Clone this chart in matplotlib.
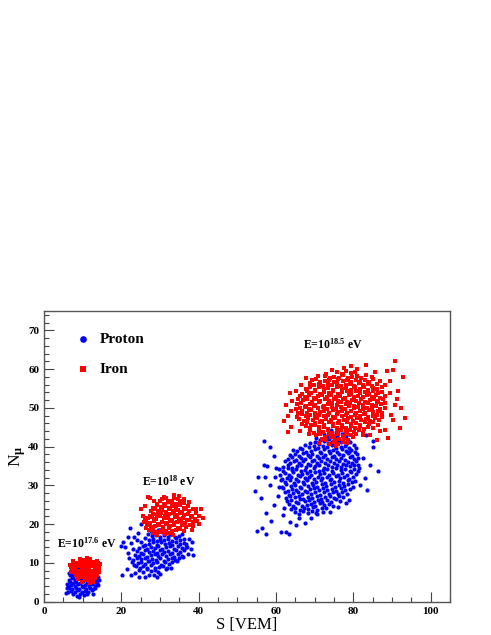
import matplotlib
matplotlib.use("Agg")
import matplotlib.pyplot as plt
from matplotlib.ticker import MultipleLocator

plt.rcParams["font.family"] = ["Liberation Serif", "DejaVu Serif"]
plt.rcParams["font.weight"] = "bold"
plt.rcParams["mathtext.fontset"] = "custom"
plt.rcParams["mathtext.rm"] = "Liberation Serif:bold"
plt.rcParams["mathtext.bf"] = "Liberation Serif:bold"
plt.rcParams["mathtext.it"] = "Liberation Serif:bold"

# (S [VEM], N_mu) pairs, one list per cluster
proton_17_6 = [
    (7.6, 1.9), (8.5, 1.6), (9.4, 2.0), (10.3, 1.7), (11.2, 2.1),
    (6.1, 2.4), (7.0, 2.8), (7.9, 2.5), (8.8, 2.9), (9.7, 2.4), (10.6, 2.7), (11.5, 2.5), (12.3, 2.9),
    (6.5, 3.6), (7.3, 3.2), (8.2, 3.5), (9.1, 3.3), (10.0, 3.7), (10.9, 3.2), (11.8, 3.5), (12.6, 3.3), (13.3, 3.6),
    (6.3, 4.0), (7.1, 4.4), (8.0, 4.1), (8.9, 4.5), (9.8, 4.0), (10.7, 4.3), (11.6, 4.1), (12.4, 4.5), (13.2, 4.0), (13.9, 4.3),
    (6.6, 5.2), (7.5, 4.8), (8.4, 5.1), (9.3, 4.9), (10.2, 5.3), (11.1, 4.8), (12.0, 5.0), (12.9, 5.2), (13.6, 4.9),
    (6.4, 5.6), (7.2, 6.0), (8.1, 5.7), (9.0, 6.1), (9.9, 5.6), (10.8, 5.9), (11.7, 5.7), (12.6, 6.0), (13.4, 5.6),
    (6.7, 6.8), (7.6, 6.4), (8.5, 6.7), (9.4, 6.5), (10.3, 6.9), (11.2, 6.4), (12.1, 6.7), (13.0, 6.5),
    (6.5, 7.5), (7.4, 7.2), (8.3, 7.6), (9.2, 7.3), (10.1, 7.5), (11.0, 7.2), (12.0, 7.6),
    (6.9, 8.3), (7.8, 8.0), (8.8, 8.4), (9.7, 8.1),
    (5.8, 2.2), (6.0, 3.5), (5.9, 4.6), (14.2, 5.5), (14.0, 6.5), (9.0, 1.3), (12.8, 2.0),
]

iron_17_6 = [
    (9.2, 11.1), (10.1, 10.8), (11.0, 11.2), (12.0, 10.9), (13.8, 10.6),
    (7.6, 10.4), (8.5, 10.1), (9.4, 10.5), (10.3, 10.2), (11.2, 10.4), (12.1, 10.0), (13.0, 10.3), (14.0, 10.1),
    (6.6, 9.5), (7.4, 9.8), (8.3, 9.4), (9.2, 9.7), (10.1, 9.5), (11.0, 9.8), (11.9, 9.4), (12.8, 9.7), (13.7, 9.5), (14.4, 9.8),
    (7.0, 9.0), (7.9, 8.7), (8.8, 9.1), (9.7, 8.8), (10.6, 9.0), (11.5, 8.7), (12.4, 9.1), (13.3, 8.8), (14.2, 9.0),
    (7.2, 8.1), (8.1, 8.4), (9.0, 8.0), (9.9, 8.3), (10.8, 8.1), (11.7, 8.4), (12.6, 8.0), (13.5, 8.3), (14.3, 8.1),
    (7.0, 7.6), (7.9, 7.3), (8.8, 7.7), (9.7, 7.4), (10.6, 7.6), (11.5, 7.3), (12.4, 7.7), (13.3, 7.4), (14.1, 7.6),
    (8.3, 7.0), (9.2, 6.6), (10.1, 6.9), (11.0, 6.7), (11.9, 7.0), (12.8, 6.6), (13.7, 6.9),
    (8.9, 5.9), (9.8, 6.3), (10.7, 6.0), (11.6, 6.2), (12.5, 5.9), (13.3, 6.2),
    (9.9, 5.2), (10.8, 5.5), (11.7, 5.3), (12.5, 5.5), (12.0, 4.9), (12.8, 5.0),
]

proton_18 = [
    (24.6, 8.2), (25.6, 7.7), (26.6, 8.4), (27.6, 7.9), (28.6, 8.3), (29.6, 7.6),
    (23.7, 9.3), (24.7, 8.6), (25.7, 9.1), (26.7, 8.8), (27.7, 9.4), (28.7, 8.6), (29.7, 9.0), (30.7, 9.3), (31.7, 8.8),
    (23.2, 9.6), (24.2, 10.0), (25.2, 10.3), (26.2, 9.8), (27.2, 10.4), (28.2, 9.9), (29.2, 10.2), (30.2, 9.6),
    (31.2, 10.3), (32.2, 9.8), (33.2, 10.2),
    (23.0, 10.7), (24.0, 11.4), (25.0, 10.9), (26.0, 11.3), (27.0, 10.6), (28.0, 11.1), (29.0, 10.8), (30.0, 11.4),
    (31.0, 10.6), (32.0, 11.0), (33.0, 11.3), (34.0, 10.7), (35.0, 11.4),
    (23.6, 12.1), (24.6, 11.8), (25.6, 12.4), (26.6, 11.6), (27.6, 12.0), (28.6, 12.3), (29.6, 11.7), (30.6, 12.4),
    (31.6, 11.9), (32.6, 12.2), (33.6, 11.6), (34.6, 12.3), (35.6, 11.8),
    (24.1, 13.2), (25.1, 12.7), (26.1, 13.4), (27.1, 12.9), (28.1, 13.2), (29.1, 12.6), (30.1, 13.3), (31.1, 12.8),
    (32.1, 13.2), (33.1, 12.7), (34.1, 13.4), (35.1, 12.9), (36.1, 13.3),
    (24.6, 13.9), (25.6, 14.3), (26.6, 13.6), (27.6, 14.1), (28.6, 13.8), (29.6, 14.4), (30.6, 13.6), (31.6, 14.0),
    (32.6, 14.3), (33.6, 13.7), (34.6, 14.4), (35.6, 13.9), (36.6, 14.2),
    (25.2, 15.3), (26.2, 14.6), (27.2, 15.0), (28.2, 15.3), (29.2, 14.7), (30.2, 15.4), (31.2, 14.9), (32.2, 15.2),
    (33.2, 14.6), (34.2, 15.3), (35.2, 14.8), (36.2, 15.2),
    (26.1, 16.4), (27.1, 16.0), (28.1, 16.2), (29.1, 15.6), (30.1, 16.3), (31.1, 15.8), (32.1, 16.2), (33.1, 15.7),
    (34.1, 16.4), (35.1, 15.9), (36.1, 16.3),
    (27.0, 17.4), (28.0, 16.9), (29.0, 17.3), (30.0, 16.6), (31.0, 17.1), (32.0, 16.8), (33.0, 17.4), (34.0, 16.6), (35.0, 17.0),
    (27.6, 18.2), (28.6, 17.7), (29.6, 18.4), (30.6, 17.9), (31.6, 18.3), (32.6, 17.6),
    (20.3, 6.8), (20.5, 15.5), (21.0, 14.0), (20.0, 14.5), (21.4, 8.4), (22.0, 11.2), (22.4, 7.0), (22.2, 19.0),
    (23.0, 13.5), (23.3, 16.8), (23.6, 7.4), (24.2, 17.8), (24.6, 6.3), (25.0, 20.0), (26.0, 6.5), (27.2, 6.9),
    (28.5, 7.0), (30.0, 7.2), (31.5, 8.4), (34.5, 10.6), (36.0, 11.5), (37.2, 12.4), (38.0, 13.5), (38.4, 15.5),
    (37.6, 16.2), (36.8, 15.0), (38.5, 12.0), (35.8, 17.6), (22.8, 10.2), (21.8, 12.6), (22.5, 15.2), (24.0, 16.0),
    (21.6, 16.8), (37.0, 14.0), (32.8, 8.6), (29.2, 6.4),
]

iron_18 = [
    (28.3, 17.7), (29.3, 17.2), (30.3, 17.9), (31.3, 17.4), (32.3, 17.8), (33.3, 17.1),
    (27.2, 18.4), (28.2, 18.8), (29.2, 18.1), (30.2, 18.6), (31.2, 18.3), (32.2, 18.9), (33.2, 18.2), (34.2, 18.6),
    (35.2, 18.8), (36.2, 18.3),
    (26.7, 19.9), (27.7, 19.2), (28.7, 19.6), (29.7, 19.8), (30.7, 19.3), (31.7, 20.0), (32.7, 19.5), (33.7, 19.7),
    (34.7, 19.1), (35.7, 19.8), (36.7, 19.4), (37.7, 19.7),
    (26.5, 20.9), (27.5, 20.4), (28.5, 20.8), (29.5, 20.1), (30.5, 20.6), (31.5, 20.3), (32.5, 20.9), (33.5, 20.2),
    (34.5, 20.6), (35.5, 20.8), (36.5, 20.3), (37.5, 21.0), (38.5, 20.5),
    (27.0, 21.6), (28.0, 21.8), (29.0, 21.3), (30.0, 22.0), (31.0, 21.5), (32.0, 21.7), (33.0, 21.1), (34.0, 21.8),
    (35.0, 21.4), (36.0, 21.7), (37.0, 21.2), (38.0, 21.9), (39.0, 21.4),
    (27.3, 22.1), (28.3, 22.6), (29.3, 22.3), (30.3, 22.9), (31.3, 22.2), (32.3, 22.6), (33.3, 22.8), (34.3, 22.3),
    (35.3, 23.0), (36.3, 22.5), (37.3, 22.7), (38.3, 22.1), (39.3, 22.8),
    (27.6, 23.3), (28.6, 24.0), (29.6, 23.5), (30.6, 23.7), (31.6, 23.1), (32.6, 23.8), (33.6, 23.4), (34.6, 23.7),
    (35.6, 23.2), (36.6, 23.9), (37.6, 23.4), (38.6, 23.8),
    (28.2, 24.2), (29.2, 24.9), (30.2, 24.4), (31.2, 24.8), (32.2, 24.1), (33.2, 24.6), (34.2, 24.3), (35.2, 24.9),
    (36.2, 24.2), (37.2, 24.6),
    (29.1, 25.3), (30.1, 25.9), (31.1, 25.2), (32.1, 25.6), (33.1, 25.8), (34.1, 25.3), (35.1, 26.0), (36.1, 25.5),
    (30.6, 26.5), (31.6, 26.7), (32.6, 26.1), (33.6, 26.8), (34.6, 26.4),
    (25.0, 23.8), (25.6, 22.2), (26.2, 24.6), (26.8, 27.0), (27.5, 26.8), (25.8, 20.5), (26.5, 19.0), (35.0, 27.2),
    (36.2, 26.6), (39.2, 24.0), (40.0, 22.2), (40.5, 23.8), (41.0, 21.5), (38.6, 19.5), (39.6, 20.8), (31.0, 27.0),
    (33.5, 27.5), (37.5, 25.8), (38.2, 18.4), (28.4, 26.1), (26.0, 21.6), (40.2, 20.1),
]

proton_18_5 = [
    (64.8, 23.2), (65.9, 22.7), (67.1, 23.4), (68.2, 22.9), (69.4, 23.3), (70.5, 22.6),
    (63.8, 23.9), (65.0, 24.3), (66.1, 23.6), (67.3, 24.1), (68.4, 23.8), (69.6, 24.4), (70.7, 23.7), (71.9, 24.1), (73.0, 24.2),
    (63.3, 25.1), (64.4, 24.8), (65.6, 25.4), (66.7, 24.6), (67.9, 25.0), (69.0, 25.3), (70.2, 24.7), (71.3, 25.4),
    (72.5, 24.9), (73.6, 25.2), (74.8, 24.6),
    (62.8, 26.0), (63.9, 26.3), (65.1, 25.7), (66.2, 26.4), (67.4, 25.9), (68.5, 26.2), (69.7, 25.6), (70.8, 26.3),
    (72.0, 25.8), (73.1, 26.2), (74.3, 25.7), (75.4, 26.4), (76.6, 25.9),
    (62.5, 26.7), (63.6, 27.4), (64.8, 26.9), (65.9, 27.3), (67.1, 26.6), (68.2, 27.1), (69.4, 26.8), (70.5, 27.4),
    (71.7, 26.6), (72.8, 27.0), (74.0, 27.3), (75.1, 26.7), (76.3, 27.4), (77.4, 26.9),
    (62.2, 28.4), (63.3, 27.6), (64.5, 28.0), (65.6, 28.3), (66.8, 27.7), (67.9, 28.4), (69.1, 27.9), (70.2, 28.2),
    (71.4, 27.6), (72.5, 28.3), (73.7, 27.8), (74.8, 28.2), (76.0, 27.7), (77.1, 28.4), (78.3, 27.9),
    (61.8, 29.3), (63.0, 28.6), (64.1, 29.1), (65.3, 28.8), (66.4, 29.4), (67.6, 28.6), (68.7, 29.0), (69.9, 29.3),
    (71.0, 28.7), (72.2, 29.4), (73.3, 28.9), (74.5, 29.2), (75.6, 28.6), (76.8, 29.3), (77.9, 28.8), (79.1, 29.2),
    (61.5, 29.7), (62.6, 30.4), (63.8, 29.9), (64.9, 30.2), (66.1, 29.6), (67.2, 30.3), (68.4, 29.8), (69.5, 30.2),
    (70.7, 29.7), (71.8, 30.4), (73.0, 29.9), (74.1, 30.3), (75.3, 29.6), (76.4, 30.1), (77.6, 29.8), (78.7, 30.4), (79.9, 29.7),
    (61.2, 31.4), (62.4, 30.9), (63.5, 31.3), (64.7, 30.6), (65.8, 31.1), (67.0, 30.8), (68.1, 31.4), (69.3, 30.6),
    (70.4, 31.0), (71.6, 31.3), (72.7, 30.7), (73.9, 31.4), (75.0, 30.9), (76.2, 31.2), (77.3, 30.6), (78.5, 31.3),
    (79.6, 30.8), (80.4, 31.2),
    (61.6, 31.6), (62.8, 32.0), (63.9, 32.3), (65.1, 31.7), (66.2, 32.4), (67.4, 31.9), (68.5, 32.2), (69.7, 31.6),
    (70.8, 32.3), (72.0, 31.8), (73.1, 32.2), (74.3, 31.7), (75.4, 32.4), (76.6, 31.9), (77.7, 32.3), (78.9, 31.6), (80.0, 32.1),
    (61.0, 32.6), (62.2, 33.1), (63.3, 32.8), (64.5, 33.4), (65.6, 32.7), (66.8, 33.0), (67.9, 33.3), (69.1, 32.7),
    (70.2, 33.4), (71.4, 32.9), (72.5, 33.2), (73.7, 32.6), (74.8, 33.3), (76.0, 32.8), (77.1, 33.2), (78.3, 32.7),
    (79.4, 33.4), (80.6, 32.9),
    (60.7, 34.2), (61.8, 33.7), (63.0, 34.4), (64.1, 33.9), (65.3, 34.3), (66.4, 33.6), (67.6, 34.1), (68.7, 33.8),
    (69.9, 34.4), (71.0, 33.6), (72.2, 34.0), (73.3, 34.3), (74.5, 33.7), (75.6, 34.4), (76.8, 33.9), (77.9, 34.2),
    (79.1, 33.6), (80.2, 34.3), (81.2, 33.8),
    (61.9, 34.8), (63.1, 35.4), (64.2, 34.6), (65.4, 35.0), (66.5, 35.3), (67.7, 34.7), (68.8, 35.4), (70.0, 34.9),
    (71.1, 35.2), (72.3, 34.6), (73.4, 35.3), (74.6, 34.8), (75.7, 35.2), (76.9, 34.7), (78.0, 35.4), (79.2, 34.9),
    (80.3, 35.3), (81.4, 34.6),
    (62.4, 36.2), (63.6, 35.7), (64.7, 36.4), (65.9, 35.9), (67.0, 36.2), (68.2, 35.6), (69.3, 36.3), (70.5, 35.8),
    (71.6, 36.2), (72.8, 35.7), (73.9, 36.4), (75.1, 35.9), (76.2, 36.3), (77.4, 35.6), (78.5, 36.1), (79.7, 35.8), (80.8, 36.4),
    (63.0, 36.9), (64.1, 37.3), (65.3, 36.6), (66.4, 37.1), (67.6, 36.8), (68.7, 37.4), (69.9, 36.6), (71.0, 37.0),
    (72.2, 37.3), (73.3, 36.7), (74.5, 37.4), (75.6, 36.9), (76.8, 37.2), (77.9, 36.6), (79.1, 37.3), (80.2, 36.8), (81.3, 37.2),
    (63.6, 37.9), (64.8, 38.2), (65.9, 37.6), (67.1, 38.3), (68.2, 37.8), (69.4, 38.2), (70.5, 37.7), (71.7, 38.4),
    (72.8, 37.9), (74.0, 38.3), (75.1, 37.6), (76.3, 38.1), (77.4, 37.8), (78.6, 38.4), (79.7, 37.6), (80.9, 38.0),
    (64.4, 39.1), (65.5, 38.8), (66.7, 39.4), (67.8, 38.6), (69.0, 39.0), (70.1, 39.3), (71.3, 38.7), (72.4, 39.4),
    (73.6, 38.9), (74.7, 39.2), (75.9, 38.6), (77.0, 39.3), (78.2, 38.8), (79.3, 39.2), (80.5, 38.7),
    (66.3, 39.7), (67.5, 40.4), (68.6, 39.9), (69.8, 40.3), (70.9, 39.6), (72.1, 40.1), (73.2, 39.8), (74.4, 40.4),
    (75.5, 39.6), (76.7, 40.0), (77.8, 40.3), (79.0, 39.7), (80.1, 40.4),
    (68.8, 41.0), (70.0, 41.3), (71.1, 40.7), (72.3, 41.4), (73.4, 40.9), (74.6, 41.2), (75.7, 40.6), (76.9, 41.3),
    (78.0, 40.8), (79.2, 41.2),
    (70.4, 42.2), (71.5, 41.7), (72.7, 42.4), (73.8, 41.9), (75.0, 42.3), (76.1, 41.6), (77.3, 42.1), (78.5, 41.8),
    (72.3, 43.3), (73.5, 42.6), (74.6, 43.1), (75.8, 42.8), (77.0, 43.4), (78.2, 42.7),
    (74.2, 44.2), (75.4, 43.7), (76.6, 44.3), (77.8, 43.9),
    (56.9, 41.5), (58.4, 39.8), (54.5, 28.6), (55.4, 32.1), (57.1, 32.3), (56.8, 35.3), (57.7, 35.1), (56.2, 26.7),
    (57.5, 22.8), (55.1, 18.2), (56.5, 18.9), (57.3, 17.4), (58.8, 20.8), (59.4, 25.0), (61.4, 18.1), (62.7, 17.9),
    (63.4, 17.6), (61.8, 22.4), (63.5, 20.6), (65.3, 19.8), (67.4, 20.2), (69.1, 21.5), (58.4, 30.1), (59.7, 32.3),
    (60.1, 34.4), (60.8, 29.7), (86.4, 33.7), (85.1, 40.0), (83.5, 28.8), (84.2, 35.3), (82.9, 31.8), (81.6, 30.1),
    (81.2, 35.3), (82.5, 37.0), (79.0, 26.2), (78.2, 25.4), (76.0, 24.5), (73.9, 23.2), (72.1, 23.2), (70.4, 22.8),
    (79.0, 38.7), (80.8, 39.6), (83.3, 43.0), (85.1, 41.5), (59.5, 37.6), (60.6, 27.2), (62.0, 24.1), (66.0, 21.6),
]

iron_18_5 = [
    (75.8, 59.2), (77.0, 58.7), (78.1, 59.4), (79.3, 58.9), (80.4, 59.3),
    (72.8, 58.3), (74.0, 57.6), (75.1, 58.1), (76.3, 57.8), (77.4, 58.4), (78.6, 57.6), (79.7, 58.0), (80.9, 58.3),
    (82.0, 57.7), (83.2, 58.4),
    (70.3, 57.4), (71.4, 56.6), (72.6, 57.0), (73.7, 57.3), (74.9, 56.7), (76.0, 57.4), (77.2, 56.9), (78.3, 57.2),
    (79.5, 56.6), (80.6, 57.3), (81.8, 56.8), (82.9, 57.2), (84.1, 56.7), (85.2, 57.4),
    (68.8, 56.4), (69.9, 55.9), (71.1, 56.3), (72.2, 55.6), (73.4, 56.1), (74.5, 55.8), (75.7, 56.4), (76.8, 55.6),
    (78.0, 56.0), (79.1, 56.3), (80.3, 55.7), (81.4, 56.4), (82.6, 55.9), (83.7, 56.2), (84.9, 55.6), (86.0, 56.3),
    (67.8, 55.0), (68.9, 55.3), (70.1, 54.7), (71.2, 55.4), (72.4, 54.9), (73.5, 55.2), (74.7, 54.6), (75.8, 55.3),
    (77.0, 54.8), (78.1, 55.2), (79.3, 54.7), (80.4, 55.4), (81.6, 54.9), (82.7, 55.3), (83.9, 54.6), (85.0, 55.1),
    (86.2, 54.8), (87.3, 55.4),
    (66.8, 53.7), (67.9, 54.4), (69.1, 53.9), (70.2, 54.3), (71.4, 53.6), (72.5, 54.1), (73.7, 53.8), (74.8, 54.4),
    (76.0, 53.6), (77.1, 54.0), (78.3, 54.3), (79.4, 53.7), (80.6, 54.4), (81.7, 53.9), (82.9, 54.2), (84.0, 53.6),
    (85.2, 54.3), (86.3, 53.8), (87.5, 54.2),
    (66.3, 53.1), (67.4, 52.8), (68.6, 53.4), (69.7, 52.6), (70.9, 53.0), (72.0, 53.3), (73.2, 52.7), (74.3, 53.4),
    (75.5, 52.9), (76.6, 53.2), (77.8, 52.6), (78.9, 53.3), (80.1, 52.8), (81.2, 53.2), (82.4, 52.7), (83.5, 53.4),
    (84.7, 52.9), (85.8, 53.3), (87.0, 52.6), (88.1, 53.1),
    (65.8, 52.4), (66.9, 52.0), (68.1, 52.2), (69.2, 51.6), (70.4, 52.3), (71.5, 51.8), (72.7, 52.2), (73.8, 51.7),
    (75.0, 52.4), (76.1, 51.9), (77.3, 52.3), (78.4, 51.6), (79.6, 52.1), (80.7, 51.8), (81.9, 52.4), (83.0, 51.6),
    (84.2, 52.0), (85.3, 52.3), (86.5, 51.7), (87.6, 52.4),
    (65.4, 50.9), (66.5, 51.3), (67.7, 50.6), (68.8, 51.1), (70.0, 50.8), (71.1, 51.4), (72.3, 50.6), (73.4, 51.0),
    (74.6, 51.3), (75.7, 50.7), (76.9, 51.4), (78.0, 50.9), (79.2, 51.2), (80.3, 50.6), (81.5, 51.3), (82.6, 50.8),
    (83.8, 51.2), (84.9, 50.7), (86.1, 51.4), (87.2, 50.9), (88.3, 51.3),
    (65.2, 49.6), (66.3, 50.0), (67.5, 50.3), (68.6, 49.7), (69.8, 50.4), (70.9, 49.9), (72.1, 50.2), (73.2, 49.6),
    (74.4, 50.3), (75.5, 49.8), (76.7, 50.2), (77.8, 49.7), (79.0, 50.4), (80.1, 49.9), (81.3, 50.3), (82.4, 49.6),
    (83.6, 50.1), (84.7, 49.8), (85.9, 50.4), (87.0, 49.6), (88.2, 50.0),
    (65.6, 48.6), (66.8, 49.1), (67.9, 48.8), (69.1, 49.4), (70.2, 48.6), (71.4, 49.0), (72.5, 49.3), (73.7, 48.7),
    (74.8, 49.4), (76.0, 48.9), (77.1, 49.2), (78.3, 48.6), (79.4, 49.3), (80.6, 48.8), (81.7, 49.2), (82.9, 48.7),
    (84.0, 49.4), (85.2, 48.9), (86.3, 49.3), (87.5, 48.6),
    (65.5, 47.7), (66.6, 48.4), (67.8, 47.9), (68.9, 48.2), (70.1, 47.6), (71.2, 48.3), (72.4, 47.8), (73.5, 48.2),
    (74.7, 47.7), (75.8, 48.4), (77.0, 47.9), (78.1, 48.3), (79.3, 47.6), (80.4, 48.1), (81.6, 47.8), (82.7, 48.4),
    (83.9, 47.6), (85.0, 48.0), (86.2, 48.3), (87.3, 47.7),
    (66.0, 47.2), (67.2, 46.7), (68.3, 47.4), (69.5, 46.9), (70.6, 47.3), (71.8, 46.6), (72.9, 47.1), (74.1, 46.8),
    (75.2, 47.4), (76.4, 46.6), (77.5, 47.0), (78.7, 47.3), (79.8, 46.7), (81.0, 47.4), (82.1, 46.9), (83.3, 47.2),
    (84.4, 46.6), (85.6, 47.3), (86.7, 46.8),
    (66.8, 45.8), (67.9, 46.4), (69.1, 45.6), (70.2, 46.0), (71.4, 46.3), (72.5, 45.7), (73.7, 46.4), (74.8, 45.9),
    (76.0, 46.2), (77.1, 45.6), (78.3, 46.3), (79.4, 45.8), (80.6, 46.2), (81.7, 45.7), (82.9, 46.4), (84.0, 45.9),
    (85.2, 46.3), (86.3, 45.6),
    (67.8, 45.3), (68.9, 44.8), (70.1, 45.5), (71.2, 45.0), (72.4, 45.2), (73.5, 44.6), (74.7, 45.3), (75.8, 44.9),
    (77.0, 45.2), (78.1, 44.7), (79.3, 45.4), (80.4, 44.9), (81.6, 45.3), (82.7, 44.6), (83.9, 45.1), (85.0, 44.8),
    (68.8, 44.3), (69.9, 43.6), (71.1, 44.1), (72.2, 43.8), (73.4, 44.4), (74.5, 43.6), (75.7, 44.0), (76.8, 44.3),
    (78.0, 43.7), (79.1, 44.4), (80.3, 43.9), (81.4, 44.2), (82.6, 43.6),
    (70.3, 42.9), (71.4, 43.2), (72.6, 42.6), (73.7, 43.3), (74.9, 42.8), (76.0, 43.2), (77.2, 42.7), (78.3, 43.4),
    (79.5, 42.9), (80.6, 43.3),
    (71.8, 42.1), (72.9, 41.8), (74.1, 42.4), (75.2, 41.6), (76.4, 42.0), (77.5, 42.3), (78.7, 41.7), (79.8, 42.4),
    (73.8, 40.8), (75.0, 41.3), (76.1, 40.7), (77.3, 41.2), (78.4, 40.9),
    (90.7, 62.0), (90.3, 59.9), (88.7, 59.4), (83.4, 61.2), (79.5, 60.9), (81.0, 60.0), (92.9, 58.0), (73.0, 58.8),
    (70.9, 58.3), (69.4, 57.1), (65.3, 54.4), (63.6, 53.8), (62.7, 50.8), (62.0, 46.5), (63.1, 43.9), (64.0, 45.2),
    (93.3, 47.4), (92.0, 44.8), (91.6, 54.3), (89.4, 53.8), (90.7, 50.8), (90.3, 46.9), (88.1, 44.4), (86.0, 41.6),
    (84.2, 43.1), (82.5, 43.1), (84.9, 57.9), (86.9, 57.0), (88.2, 55.8), (89.6, 56.9), (91.2, 52.2), (92.4, 50.0),
    (89.8, 48.2), (88.9, 42.3), (87.0, 44.0), (63.8, 49.2), (64.2, 51.9), (63.2, 47.8), (66.4, 55.9), (67.8, 57.6),
    (74.5, 59.9), (77.6, 60.3), (85.5, 59.2), (68.5, 43.2), (66.2, 44.1), (75.5, 40.2), (71.0, 40.9),
]

labels = ["E=10$^{17.6}$ eV", "E=10$^{18}$ eV", "E=10$^{18.5}$ eV"]
label_pos = [(3.4, 15.2), (25.3, 31.0), (66.9, 66.3)]

fig = plt.figure(figsize=(4.91, 6.35), dpi=100)
ax = fig.add_axes([0.0896, 0.0524, 0.8269, 0.4578])

for pts in (proton_17_6, proton_18, proton_18_5):
    s, n = zip(*pts)
    hp = ax.scatter(s, n, s=9, marker="o", color="#0000ff", linewidths=0)
for pts in (iron_17_6, iron_18, iron_18_5):
    s, n = zip(*pts)
    hi = ax.scatter(s, n, s=9, marker="s", color="#ff0000", linewidths=0)

for txt, (x, y) in zip(labels, label_pos):
    ax.text(x, y, txt, fontsize=8.5, ha="left", va="center")

ax.legend([hp, hi], ["Proton", "Iron"], loc="upper left", bbox_to_anchor=(0.047, 0.975),
          frameon=False, markerscale=1.6, handlelength=0.8, handletextpad=0.7, labelspacing=1.1,
          prop={"family": "Liberation Serif", "weight": "bold", "size": 11})

ax.set_xlim(0, 105)
ax.set_ylim(0, 75)
ax.xaxis.set_major_locator(MultipleLocator(20))
ax.xaxis.set_minor_locator(MultipleLocator(5))
ax.yaxis.set_major_locator(MultipleLocator(10))
ax.yaxis.set_minor_locator(MultipleLocator(2))
ax.tick_params(which="both", direction="in", top=False, right=False, labelsize=8, color="#444444")
ax.tick_params(which="major", length=7, width=0.8)
ax.tick_params(which="minor", length=3.5, width=0.8)
for lab in ax.get_xticklabels() + ax.get_yticklabels():
    lab.set_fontweight("bold")
for sp in ax.spines.values():
    sp.set_color("#555555")
    sp.set_linewidth(1.0)

ax.set_xlabel("S [VEM]", fontsize=12, labelpad=1)
ax.set_ylabel("N$_{\\mathrm{μ}}$", fontsize=12.5, labelpad=0)

fig.savefig("out.png", dpi=100)
